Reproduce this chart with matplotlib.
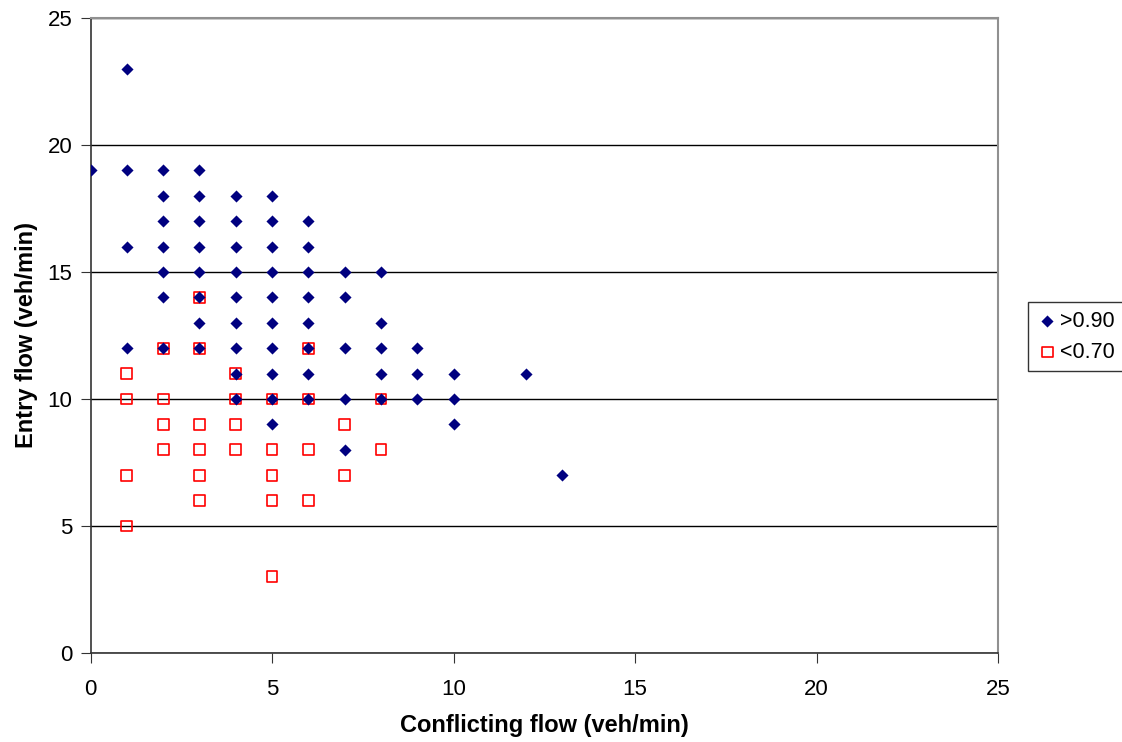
import numpy as np
import matplotlib.pyplot as plt

plt.rcParams['font.family'] = ['Liberation Sans', 'DejaVu Sans']

# >0.90 points (conflicting flow, entry flow)
high_x = [0,
          1, 1, 1, 1,
          2, 2, 2, 2, 2, 2, 2,
          3, 3, 3, 3, 3, 3, 3, 3,
          4, 4, 4, 4, 4, 4, 4, 4, 4,
          5, 5, 5, 5, 5, 5, 5, 5, 5, 5,
          6, 6, 6, 6, 6, 6, 6, 6,
          7, 7, 7, 7, 7,
          8, 8, 8, 8, 8,
          9, 9, 9,
          10, 10, 10,
          12,
          13]
high_y = [19,
          23, 19, 16, 12,
          19, 18, 17, 16, 15, 14, 12,
          19, 18, 17, 16, 15, 14, 13, 12,
          18, 17, 16, 15, 14, 13, 12, 11, 10,
          18, 17, 16, 15, 14, 13, 12, 11, 10, 9,
          17, 16, 15, 14, 13, 12, 11, 10,
          15, 14, 12, 10, 8,
          15, 13, 12, 11, 10,
          12, 11, 10,
          11, 10, 9,
          11,
          7]

# <0.70 points
low_x = [1, 1, 1, 1,
         2, 2, 2, 2,
         3, 3, 3, 3, 3, 3,
         4, 4, 4, 4,
         5, 5, 5, 5, 5,
         6, 6, 6, 6,
         7, 7,
         8, 8]
low_y = [11, 10, 7, 5,
         12, 10, 9, 8,
         14, 12, 9, 8, 7, 6,
         11, 10, 9, 8,
         10, 8, 7, 6, 3,
         12, 10, 8, 6,
         9, 7,
         10, 8]

fig = plt.figure(figsize=(11.22, 7.42), dpi=100)
ax = fig.add_axes([0.0807, 0.12, 0.8088, 0.8557])

ax.scatter(high_x, high_y, marker='D', s=38, color='#000080', linewidths=0,
           label='>0.90', zorder=3)
ax.scatter(low_x, low_y, marker='s', s=60, facecolors='none',
           edgecolors='#ff0000', linewidths=1.2, label='<0.70', zorder=2)

ax.set_xlim(0, 25)
ax.set_ylim(0, 25)
ax.set_xticks(np.arange(0, 26, 5))
ax.set_yticks(np.arange(0, 26, 5))
ax.tick_params(labelsize=16, length=7, direction='out', color='#333333')
ax.tick_params(axis='x', pad=12)
ax.tick_params(axis='y', pad=6)
ax.yaxis.grid(True, color='black', linewidth=1)
ax.set_axisbelow(True)

for side in ['top', 'right']:
    ax.spines[side].set_color('#909090')
    ax.spines[side].set_linewidth(1.5)
for side in ['left', 'bottom']:
    ax.spines[side].set_color('#333333')
    ax.spines[side].set_linewidth(1.2)

ax.set_xlabel('Conflicting flow (veh/min)', fontsize=17, fontweight='bold', labelpad=10)
ax.set_ylabel('Entry flow (veh/min)', fontsize=17, fontweight='bold', labelpad=7)

leg = fig.legend(loc='center left', bbox_to_anchor=(0.916, 0.546), fontsize=15.5,
                 frameon=True, fancybox=False, edgecolor='black', handletextpad=0.1,
                 handlelength=1.0, borderpad=0.4, labelspacing=0.45, borderaxespad=0)
leg.get_frame().set_linewidth(1)

fig.savefig('out.png', dpi=100)
